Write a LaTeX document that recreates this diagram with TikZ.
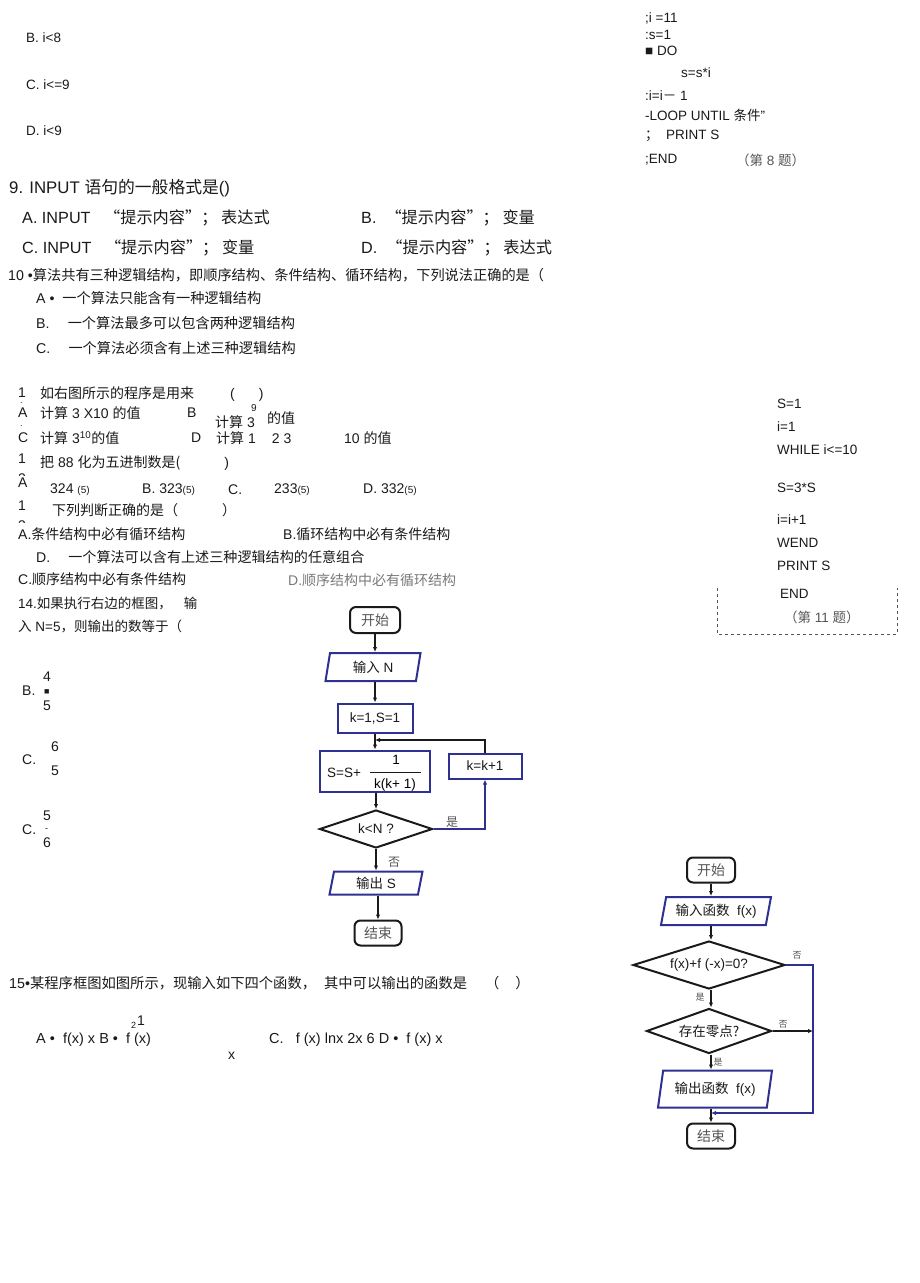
\documentclass[tikz,border=0pt]{standalone}
\usepackage{fontspec}
\setmainfont{Liberation Sans}
\newfontfamily\cjk{Noto Sans CJK SC}
\usepackage{tikz}
\usetikzlibrary{shapes.geometric,arrows.meta,calc}
\definecolor{boxblue}{HTML}{2E3192}
\definecolor{ink}{HTML}{1A1A1A}
\definecolor{soft}{HTML}{555555}
\definecolor{faint}{HTML}{7A7A7A}
\newcommand{\fsz}[1]{\fontsize{#1pt}{#1pt}\selectfont}
\tikzset{
  txt/.style={anchor=west, inner sep=0pt, text=ink, font=\fsz{14}},
  big/.style={txt, font=\fsz{16.8}},
  mid/.style={txt, font=\fsz{16.2}},
  opt/.style={txt, font=\fsz{14.2}},
  code/.style={txt, font=\fsz{13.5}},
  tiny/.style={txt, font=\fsz{9}},
  term/.style={draw=ink, line width=2pt, rounded corners=6pt, inner sep=0pt,
    text=soft, font=\fsz{14}\cjk},
  proc/.style={draw=boxblue, line width=2pt, inner sep=0pt, text=ink, font=\fsz{13.5}},
  io/.style={trapezium, trapezium left angle=70, trapezium right angle=110,
    trapezium stretches body, draw=boxblue, line width=2pt, inner sep=0pt,
    text=ink, font=\fsz{13.5}},
  dec/.style={diamond, draw=ink, line width=2pt, inner sep=0pt, text=ink, font=\fsz{13.5}},
  flow/.style={draw=ink, line width=2pt, -{Latex[length=5pt,width=4.5pt]}},
  flowb/.style={draw=boxblue, line width=2pt, -{Latex[length=5pt,width=4.5pt]}},
  lab/.style={inner sep=0pt, text=soft, font=\fsz{12}\cjk}
}

\begin{document}
\begin{tikzpicture}[x=1pt,y=-1pt]
  \useasboundingbox (0,0) rectangle (920,1283);
  \fill[white] (0,0) rectangle (920,1283);

  % question 8, options left
  \node[code] (q8b) at (26,38) {B. i<8};
  \node[code] (q8c) at (26,85) {C. i<=9};
  \node[code] (q8d) at (26,131) {D. i<9};

  % question 8, program
  \node[code] (p1) at (645,18) {;i =11};
  \node[code] (p2) at (645,35) {:s=1};
  \node[code] (p3) at (645,51) {■ DO};
  \node[code] (p4) at (681,73) {s=s*i};
  \node[code] (p5) at (645,96) {:i=i{\cjk －} 1};
  \node[code] (p6) at (645,115) {-LOOP UNTIL {\cjk 条件}”};
  \node[code] (p7) at (645,136) {{\cjk ；}\ \ PRINT S};
  \node[code] (p8) at (645,160) {;END};
  \node[code, text=soft] (p9) at (736,160) {{\cjk （第}\ 8 {\cjk 题）}};

  % question 9
  \node[big] (q9) at (9,188) {9. INPUT {\cjk 语句的一般格式是}()};
  \node[mid] (q9a) at (22,218) {A. INPUT\ \ \ {\cjk “提示内容”；\ 表达式}};
  \node[mid] (q9b) at (361,218) {B.\ \ {\cjk “提示内容”；\ 变量}};
  \node[mid] (q9c) at (22,248) {C. INPUT\ \ \ {\cjk “提示内容”；\ 变量}};
  \node[mid] (q9d) at (361,248) {D.\ \ {\cjk “提示内容”；\ 表达式}};

  % question 10
  \node[txt, font=\fsz{14.2}] (q10) at (8,275) {10 •{\cjk 算法共有三种逻辑结构，即顺序结构、条件结构、循环结构，下列说法正确的是（}};
  \node[opt] (q10a) at (36,298) {A •\ \ {\cjk 一个算法只能含有一种逻辑结构}};
  \node[opt] (q10b) at (36,323) {B.\quad\ {\cjk 一个算法最多可以包含两种逻辑结构}};
  \node[opt] (q10c) at (36,348) {C.\quad\ {\cjk 一个算法必须含有上述三种逻辑结构}};

  % question 11
  \node[txt] (q11n) at (18,393) {1};
  \node[tiny] (q11dot) at (20,403) {.};
  \node[txt] (q11A) at (18,413) {A};
  \node[tiny] (q11dot2) at (20,426) {.};
  \node[txt] (q11C) at (18,438) {C};
  \node[txt] (q11) at (40,393) {\cjk 如右图所示的程序是用来};
  \node[txt] (q11p) at (230,395) {(\hspace{24pt})};
  \node[txt] (q11a) at (40,413) {{\cjk 计算} 3 X10 {\cjk 的值}};
  \node[txt] (q11B) at (187,413) {B};
  \node[txt] (q11b) at (215,422) {{\cjk 计算} 3};
  \node[tiny, font=\fsz{10}] (q11sup) at (251,408) {9};
  \node[txt] (q11b2) at (267,418) {\cjk 的值};
  \node[txt] (q11c) at (40,438) {{\cjk 计算} 3\textsuperscript{10}{\cjk 的值}};
  \node[txt] (q11D) at (191,438) {D};
  \node[txt] (q11d) at (216,438) {{\cjk 计算} 1\hspace{16pt}2 3};
  \node[txt] (q11e) at (344,438) {10 {\cjk 的值}};

  % question 12
  \node[txt] (q12n) at (18,459) {1};
  \begin{scope}
    \clip (12,467) rectangle (30,475);
    \node[txt] (q12m) at (18,479) {2};
  \end{scope}
  \node[txt] (q12) at (40,463) {{\cjk 把} 88 {\cjk 化为五进制数是(}\hspace{44pt})};
  \node[txt] (q12A) at (18,483) {A};
  \node[txt] (q12a) at (50,490) {324 {\fsz{10}(5)}};
  \node[txt] (q12b) at (142,490) {B. 323{\fsz{10}(5)}};
  \node[txt] (q12c) at (228,490) {C.};
  \node[txt] (q12c2) at (274,490) {233{\fsz{10}(5)}};
  \node[txt] (q12d) at (363,490) {D. 332{\fsz{10}(5)}};

  % question 13
  \node[txt] (q13n) at (18,506) {1};
  \begin{scope}
    \clip (12,514) rectangle (30,522);
    \node[txt] (q13m) at (18,526) {3};
  \end{scope}
  \node[txt] (q13) at (52,510) {{\cjk 下列判断正确的是（}\hspace{44pt}{\cjk ）}};
  \node[txt] (q13a) at (18,534) {A.{\cjk 条件结构中必有循环结构}};
  \node[txt] (q13b) at (283,534) {B.{\cjk 循环结构中必有条件结构}};
  \node[txt, font=\fsz{14.1}] (q13x) at (36,557) {D.\quad\ {\cjk 一个算法可以含有上述三种逻辑结构的任意组合}};
  \node[txt] (q13c) at (18,579) {C.{\cjk 顺序结构中必有条件结构}};
  \node[txt, text=faint] (q13d) at (288,580) {D.{\cjk 顺序结构中必有循环结构}};

  % question 11, program
  \node[code] (w1) at (777,404) {S=1};
  \node[code] (w2) at (777,427) {i=1};
  \node[code] (w3) at (777,450) {WHILE i<=10};
  \node[code] (w4) at (777,488) {S=3*S};
  \node[code] (w5) at (777,520) {i=i+1};
  \node[code] (w6) at (777,543) {WEND};
  \node[code] (w7) at (777,566) {PRINT S};
  \node[code] (w8) at (780,594) {END};
  \node[code, text=soft] (w9) at (784,617) {{\cjk （第}\ 11 {\cjk 题）}};
  \draw[soft, dashed, line width=0.8pt] (717,588) -- (717,634) -- (897,634) -- (897,588);

  % question 14
  \node[code] (q14) at (18,604) {14.{\cjk 如果执行右边的框图，}\hspace{12pt}{\cjk 输}};
  \node[code] (q14b) at (18,626) {{\cjk 入} N=5{\cjk ，则输出的数等于（}};
  \node[txt] (o1) at (22,691) {B.};
  \node[txt] (o1n) at (43,677) {4};
  \node[tiny] (o1m) at (44,692) {■};
  \node[txt] (o1d) at (43,706) {5};
  \node[txt] (o2) at (22,760) {C.};
  \node[txt] (o2n) at (51,747) {6};
  \node[txt] (o2d) at (51,771) {5};
  \node[txt] (o3) at (22,830) {C.};
  \node[txt] (o3n) at (43,816) {5};
  \node[tiny] (o3m) at (45,830) {-};
  \node[txt] (o3d) at (43,843) {6};

  % flowchart of question 14
  \node[term, minimum width=50pt, minimum height=26pt] (st1) at (375,620) {开始};
  \node[io, minimum width=95pt, minimum height=28pt] (in1) at (373,667) {{\cjk 输入} N};
  \node[proc, minimum width=75pt, minimum height=29pt] (init1) at (375,718) {k=1,S=1};
  \node[proc, minimum width=110pt, minimum height=41pt] (sum1) at (375,771) {};
  \node[txt, font=\fsz{13.5}] (sumL) at (327,773) {S=S+};
  \node[inner sep=0pt, font=\fsz{13.5}] (sumN) at (396,760) {1};
  \node[inner sep=0pt, font=\fsz{13.5}] (sumD) at (395,785) {k(k+ 1)};
  \draw[ink, line width=0.8pt] (370,772) -- (421,772);
  \node[proc, minimum width=73pt, minimum height=25pt] (inc1) at (485,766) {k=k+1};
  \node[dec, aspect=3, minimum width=113pt, minimum height=38pt] (cond1) at (376,829) {k<N ?};
  \node[io, minimum width=93pt, minimum height=23pt] (out1) at (376,883) {{\cjk 输出} S};
  \node[term, minimum width=47pt, minimum height=25pt] (end1) at (378,933) {结束};
  \coordinate (j1) at (375,740);

  \draw[flow] (st1) -- (st1 |- in1.north);
  \draw[flow] (in1.south -| st1) -- (init1);
  \draw[flow] (init1) -- (sum1);
  \draw[flow] (sum1.south -| cond1) -- (cond1);
  \draw[flow] (cond1) -- (out1);
  \draw[flow] (out1.south -| end1) -- (end1);
  \draw[flowb] (cond1.east) -| (inc1.south);
  \draw[flow] (inc1.north) |- (j1);
  \node[lab] (yes1) at (452,822) {是};
  \node[lab] (no1) at (394,862) {否};

  % question 15
  \node[txt, font=\fsz{14.3}] (q15) at (9,983) {15•{\cjk 某程序框图如图所示，现输入如下四个函数，}\hspace{8pt}{\cjk 其中可以输出的函数是}\hspace{18pt}{\cjk （}\hspace{16pt}{\cjk ）}};
  \node[code, font=\fsz{14.5}] (q15a) at (36,1040) {A •\ \ f(x) x B •\ \ f (x)};
  \node[tiny] (q15s) at (131,1025) {2};
  \node[code, font=\fsz{14}] (q15t) at (137,1021) {1};
  \node[code, font=\fsz{14}] (q15x) at (228,1056) {x};
  \node[code, font=\fsz{14.5}] (q15c) at (269,1040) {C.\ \ \ f (x) lnx 2x 6 D •\ \ f (x) x};

  % flowchart of question 15
  \node[term, minimum width=48pt, minimum height=25pt] (st2) at (711,870) {开始};
  \node[io, minimum width=110pt, minimum height=28pt] (in2) at (716,911) {{\cjk 输入函数}\ \ f(x)};
  \node[dec, aspect=3.2, minimum width=152pt, minimum height=48pt] (dec2a) at (709,965) {f(x)+f (-x)=0?};
  \node[dec, aspect=2.8, minimum width=125pt, minimum height=45pt] (dec2b) at (709,1031) {\cjk 存在零点?};
  \node[io, minimum width=114pt, minimum height=37pt] (out2) at (715,1089) {{\cjk 输出函数}\ \ f(x)};
  \node[term, minimum width=48pt, minimum height=25pt] (end2) at (711,1136) {结束};
  \coordinate (rt) at (813,1113);
  \coordinate (m2) at (711,1113);

  \draw[flow, line width=1.5pt] (st2) -- (st2 |- in2.north);
  \draw[flow, line width=1.5pt] (in2.south -| st2) -- (dec2a.north -| st2);
  \draw[flow, line width=1.5pt] (dec2a.south -| st2) -- (dec2b.north -| st2);
  \draw[flow, line width=1.5pt] (dec2b.south -| st2) -- (out2.north -| st2);
  \draw[flow, line width=1.5pt] (out2.south -| st2) -- (end2);
  \draw[flowb, line width=1.6pt] (dec2a.east) -| (rt) -- (m2);
  \draw[flow, line width=1.2pt] (dec2b.east) -- (dec2b.east -| rt);
  \node[lab, font=\fsz{9}\cjk] (no2a) at (797,955) {否};
  \node[lab, font=\fsz{9}\cjk] (no2b) at (783,1024) {否};
  \node[lab, font=\fsz{9}\cjk] (yes2a) at (700,997) {是};
  \node[lab, font=\fsz{9}\cjk] (yes2b) at (718,1062) {是};
\end{tikzpicture}
\end{document}
